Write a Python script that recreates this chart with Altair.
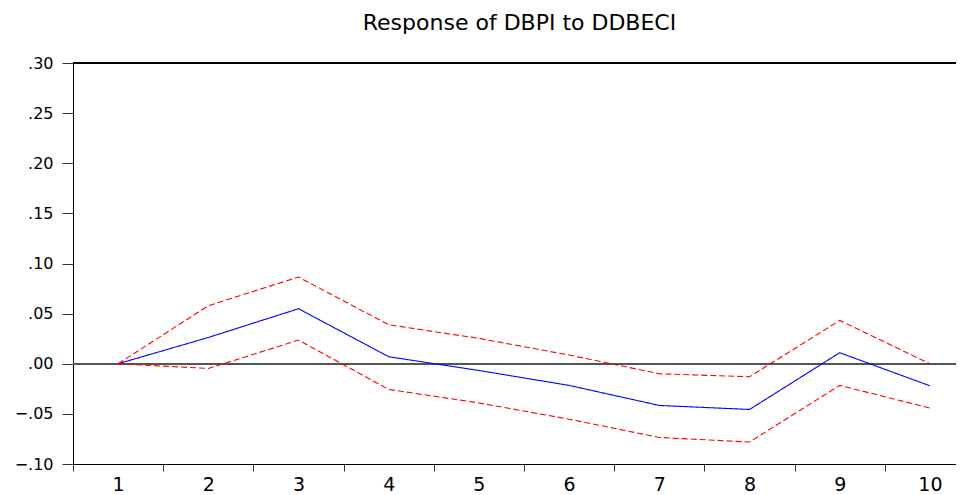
import altair as alt
import pandas as pd

periods = [1, 2, 3, 4, 5, 6, 7, 8, 9, 10]
response = [0.000, 0.0262, 0.0549, 0.0070, -0.0067, -0.0216, -0.0416, -0.0456, 0.0110, -0.0220]
upper = [0.000, 0.0579, 0.0865, 0.0389, 0.0253, 0.0087, -0.0100, -0.0130, 0.0432, 0.0000]
lower = [0.000, -0.0047, 0.0236, -0.0256, -0.0391, -0.0553, -0.0735, -0.0781, -0.0216, -0.0442]
y_ticks = [-0.10, -0.05, 0.00, 0.05, 0.10, 0.15, 0.20, 0.25, 0.30]
title_text = "Response of DBPI to DDBECI"

rows = []
for name, kind, vals in [("response", "response", response), ("upper", "band", upper), ("lower", "band", lower)]:
    for p, v in zip(periods, vals):
        rows.append({"period": p, "value": v, "series": name, "kind": kind})
df = pd.DataFrame(rows)

W = 883
H = 401
unit = W / (10.289 - 0.5)
half = unit / 2

x_scale = alt.Scale(domain=[0.5, 10.289], nice=False, zero=False)
y_scale = alt.Scale(domain=[-0.10, 0.30], nice=False, zero=False)

lines = alt.Chart(df).mark_line(strokeWidth=1.1, clip=True).encode(
    x=alt.X("period:Q", scale=x_scale,
            axis=alt.Axis(values=periods, title=None, grid=False, tickSize=7,
                          tickOffset=-half, labelOffset=half, labelFontSize=19,
                          labelFont="DejaVu Sans", labelColor="#000000",
                          labelPadding=4, domainColor="#000000", tickColor="#333333",
                          labelFlush=False, labelOverlap=False, format="d")),
    y=alt.Y("value:Q", scale=y_scale,
            axis=alt.Axis(values=y_ticks, title=None, grid=False, tickSize=11,
                          labelFontSize=16, labelFont="DejaVu Sans", labelColor="#000000",
                          labelPadding=9, domainColor="#000000", tickColor="#333333",
                          labelExpr="replace(format(datum.value, '.2f'), '0.', '.')",
                          labelFlush=False, labelOverlap=False)),
    color=alt.Color("kind:N", scale=alt.Scale(domain=["response", "band"], range=["#0000ff", "#ff0000"]), legend=None),
    strokeDash=alt.StrokeDash("kind:N", scale=alt.Scale(domain=["response", "band"], range=[[1, 0], [6, 3]]), legend=None),
    detail="series:N",
)

zero = alt.Chart(df).mark_rule(color="#555555", strokeWidth=1).encode(y=alt.datum(0.0, scale=y_scale))
top = alt.Chart(df).mark_rule(color="#000000", strokeWidth=1.5).encode(y=alt.datum(0.30, scale=y_scale))

chart = alt.layer(zero, top, lines).properties(
    width=W, height=H,
    title=alt.TitleParams(title_text, font="DejaVu Sans", fontSize=22, fontWeight="normal",
                          color="#000000", anchor="middle", offset=20, dx=5),
    autosize=alt.AutoSizeParams(type="none"),
    padding={"left": 65, "top": 55, "right": 0, "bottom": 32},
).configure_view(stroke=None).configure(background="#ffffff")

chart.save("out.html", embed_options={"renderer": "svg", "actions": False})
